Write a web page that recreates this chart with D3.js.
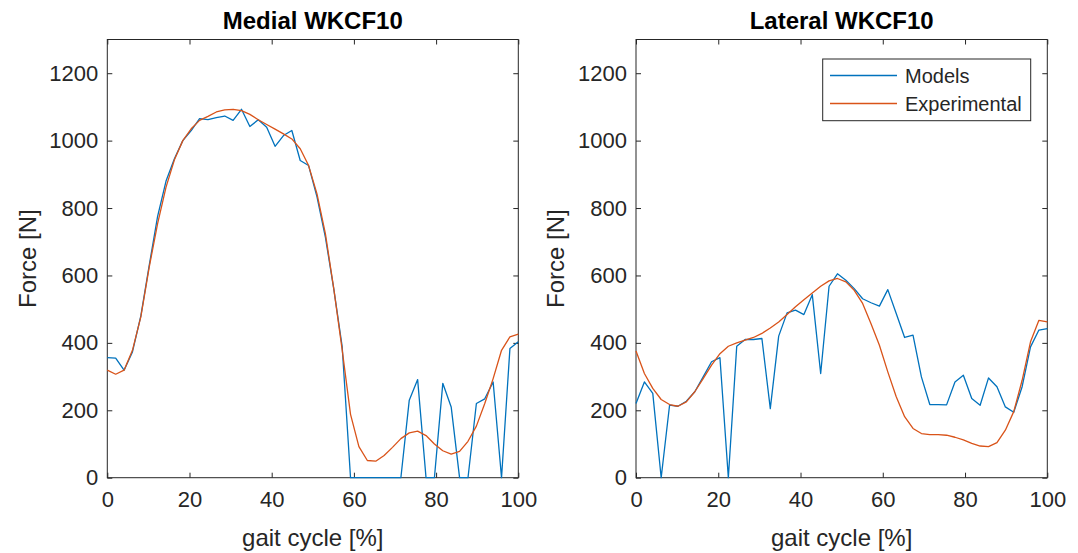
<!DOCTYPE html>
<html><head><meta charset="utf-8">
<script src="https://cdn.jsdelivr.net/npm/d3@7"></script>
<style>
body{margin:0;background:#fff}
svg{display:block}
text{font-family:"Liberation Sans",Arial,Helvetica,sans-serif}
</style>
</head><body>
<svg id="c" width="1078" height="553"></svg>
<script>
// gait cycle samples [%]
const gait = [0, 2.04, 4.08, 6.12, 8.16, 10.2, 12.24, 14.29, 16.33, 18.37, 20.41, 22.45, 24.49, 26.53, 28.57, 30.61, 32.65, 34.69, 36.73, 38.78, 40.82, 42.86, 44.9, 46.94, 48.98, 51.02, 53.06, 55.1, 57.14, 59.18, 61.22, 63.27, 65.31, 67.35, 69.39, 71.43, 73.47, 75.51, 77.55, 79.59, 81.63, 83.67, 85.71, 87.76, 89.8, 91.84, 93.88, 95.92, 97.96, 100];

const xTicks = [0, 20, 40, 60, 80, 100];
const yTicks = [0, 200, 400, 600, 800, 1000, 1200];

const medialModels = [356, 355, 319, 373, 480, 630, 775, 880, 946, 1000, 1030, 1065, 1062, 1068, 1073, 1060, 1093, 1042, 1062, 1040, 983, 1015, 1030, 941, 926, 833, 714, 560, 390, 0, 0, 0, 0, 0, 0, 0, 230, 291, 0, 0, 280, 210, 0, 0, 220, 234, 284, 0, 383, 403];
const medialExp = [319, 307, 319, 378, 477, 625, 754, 862, 943, 1000, 1035, 1060, 1072, 1085, 1091, 1093, 1089, 1078, 1062, 1048, 1034, 1020, 1005, 976, 926, 842, 724, 561, 380, 188, 92, 51, 49, 66, 90, 116, 133, 138, 125, 100, 80, 70, 78, 108, 153, 220, 294, 378, 418, 426];

const lateralModels = [220, 284, 250, 0, 215, 212, 227, 255, 299, 344, 356, 0, 390, 410, 410, 413, 205, 420, 489, 497, 484, 543, 309, 568, 605, 586, 561, 531, 519, 509, 558, 487, 416, 423, 299, 217, 217, 216, 284, 304, 235, 215, 296, 270, 210, 194, 270, 388, 438, 442];
const lateralExp = [376, 309, 265, 232, 217, 212, 225, 255, 294, 334, 368, 390, 400, 408, 416, 428, 444, 462, 484, 507, 528, 548, 568, 584, 591, 581, 556, 517, 457, 393, 314, 240, 181, 146, 131, 128, 128, 126, 120, 112, 102, 94, 92, 104, 141, 196, 289, 403, 467, 462];

const titles = ["Medial WKCF10", "Lateral WKCF10"];
const seriesNames = ["Models", "Experimental"];
const xLabel = "gait cycle [%]";
const yLabel = "Force [N]";

const colors = ["#0072BD", "#D95319"];
const axisColor = "#262626";

const svg = d3.select("#c");
const plotTop = 39.5, plotBottom = 477.7;
const panels = [
  {title: titles[0], left: 107.3, right: 518.3, models: medialModels, exp: medialExp, legend: false},
  {title: titles[1], left: 636, right: 1047.3, models: lateralModels, exp: lateralExp, legend: true}
];

panels.forEach(p => {
  const x = d3.scaleLinear().domain([0, 100]).range([p.left, p.right]);
  const y = d3.scaleLinear().domain([0, 1300]).range([plotBottom, plotTop]);
  const g = svg.append("g");

  const styleAxis = sel => {
    sel.select(".domain").remove();
    sel.selectAll(".tick line").attr("stroke", axisColor).attr("stroke-width", 1);
    sel.selectAll(".tick text").attr("fill", axisColor).style("font-size", "22px");
  };
  g.append("g").attr("transform", `translate(0,${plotBottom})`)
    .call(d3.axisBottom(x).tickValues(xTicks).tickSize(-5).tickPadding(14).tickFormat(d3.format("d")))
    .call(styleAxis);
  g.append("g").attr("transform", `translate(0,${plotTop})`)
    .call(d3.axisTop(x).tickValues(xTicks).tickSize(-5).tickFormat(""))
    .call(styleAxis);
  g.append("g").attr("transform", `translate(${p.left},0)`)
    .call(d3.axisLeft(y).tickValues(yTicks).tickSize(-5).tickPadding(9).tickFormat(d3.format("d")))
    .call(styleAxis);
  g.append("g").attr("transform", `translate(${p.right},0)`)
    .call(d3.axisRight(y).tickValues(yTicks).tickSize(-5).tickFormat(""))
    .call(styleAxis);

  g.append("rect").attr("x", p.left).attr("y", plotTop)
    .attr("width", p.right - p.left).attr("height", plotBottom - plotTop)
    .attr("fill", "none").attr("stroke", axisColor).attr("stroke-width", 1);

  const line = d3.line().x((d, i) => x(gait[i])).y(d => y(d));
  [p.models, p.exp].forEach((s, k) => {
    g.append("path").datum(s).attr("d", line)
      .attr("fill", "none").attr("stroke", colors[k]).attr("stroke-width", 1.3)
      .attr("stroke-linejoin", "round");
  });

  g.append("text").attr("x", (p.left + p.right) / 2).attr("y", 29)
    .attr("text-anchor", "middle").style("font-size", "24px").style("font-weight", "bold")
    .attr("fill", "#000").text(p.title);

  g.append("text").attr("x", (p.left + p.right) / 2).attr("y", 546)
    .attr("text-anchor", "middle").style("font-size", "24px").attr("fill", axisColor).text(xLabel);
  g.append("text").attr("transform", `translate(${p.left - 80},${(plotTop + plotBottom) / 2}) rotate(-90)`)
    .attr("text-anchor", "middle").attr("dy", "0.35em").style("font-size", "24px")
    .attr("fill", axisColor).text(yLabel);

  if (p.legend) {
    const lg = g.append("g");
    lg.append("rect").attr("x", 822.7).attr("y", 59).attr("width", 208).attr("height", 61.7)
      .attr("fill", "#fff").attr("stroke", axisColor).attr("stroke-width", 1);
    seriesNames.forEach((n, k) => {
      const yy = 75.5 + k * 28;
      lg.append("line").attr("x1", 830).attr("x2", 897).attr("y1", yy).attr("y2", yy)
        .attr("stroke", colors[k]).attr("stroke-width", 1.4);
      lg.append("text").attr("x", 905).attr("y", yy).attr("dy", "0.35em")
        .style("font-size", "20px").attr("fill", axisColor).text(n);
    });
  }
});
</script>
</body></html>
